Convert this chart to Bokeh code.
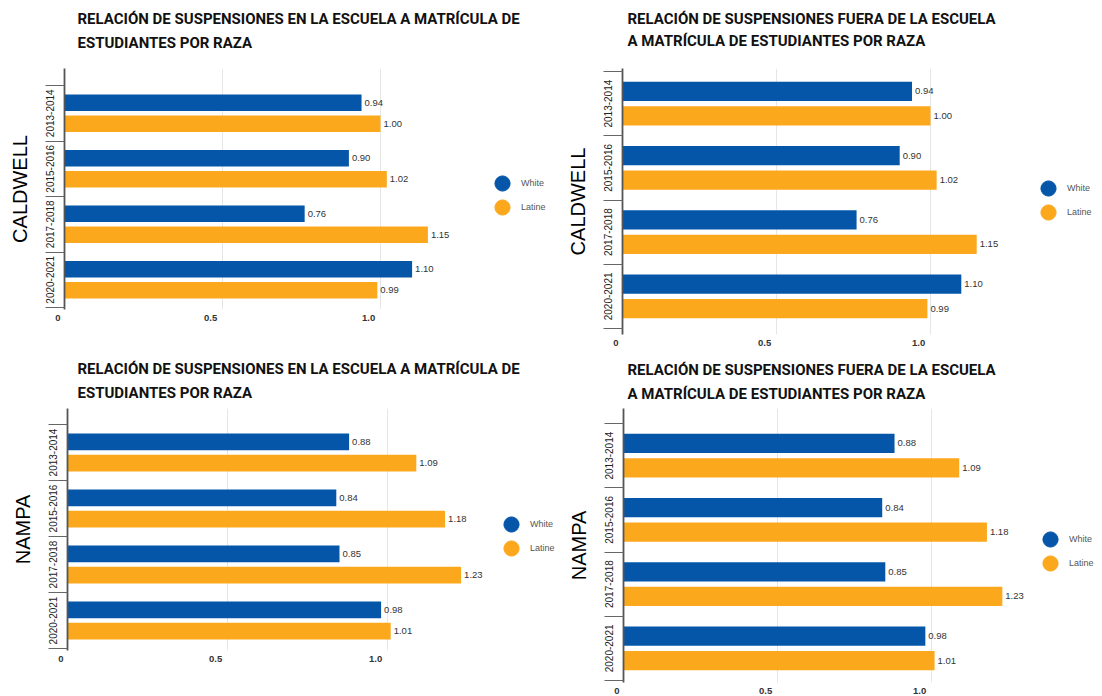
from bokeh.plotting import figure
from bokeh.models import ColumnDataSource, FixedTicker, Range1d, Legend, LegendItem, Title
from bokeh.transform import dodge
from bokeh.layouts import column, row
from bokeh.embed import file_html
from bokeh.resources import INLINE
from bokeh.core.properties import value

# ---------------- data ----------------
years = ["2013-2014", "2015-2016", "2017-2018", "2020-2021"]
series = ["White", "Latine"]
x_ticks = [0, 0.5, 1]
x_tick_labels = ["0", "0.5", "1.0"]

caldwell_in_white = [0.94, 0.90, 0.76, 1.10]
caldwell_in_latine = [1.00, 1.02, 1.15, 0.99]
caldwell_out_white = [0.94, 0.90, 0.76, 1.10]
caldwell_out_latine = [1.00, 1.02, 1.15, 0.99]
nampa_in_white = [0.88, 0.84, 0.85, 0.98]
nampa_in_latine = [1.09, 1.18, 1.23, 1.01]
nampa_out_white = [0.88, 0.84, 0.85, 0.98]
nampa_out_latine = [1.09, 1.18, 1.23, 1.01]

title_in = ["RELACIÓN DE SUSPENSIONES EN LA ESCUELA A MATRÍCULA DE", "ESTUDIANTES POR RAZA"]
title_out = ["RELACIÓN DE SUSPENSIONES FUERA DE LA ESCUELA", "A MATRÍCULA DE ESTUDIANTES POR RAZA"]

# ---------------- style ----------------
BLUE = "#0556A8"
ORANGE = "#FBA81D"
COLORS = [BLUE, ORANGE]
TITLE_FONT = "Roboto"
BODY_FONT = "Liberation Sans"
OFF = 0.19
BAR_H = 0.30
NBSP = "\u00a0"
# trailing padding so that the centred tick labels sit left of their gridline
x_label_pad = [5, 9, 9]
LEG_GLYPH = 38      # legend glyph box -> marker of 0.4 * 38 px
LEG_STEP = 24       # vertical distance between the two legend entries
BORDER_R = 2


def style_title(t, offset, standoff):
    t.text_font = TITLE_FONT
    t.text_font_size = "15px"
    t.text_font_style = "bold"
    t.text_color = "#111111"
    t.align = "left"
    t.offset = offset
    t.standoff = standoff


def make_panel(title_lines, city, white, latine, g):
    n = len(years)
    src = ColumnDataSource(dict(
        idx=list(range(n)), white=white, latine=latine,
        white_lbl=[f"{v:.2f}" for v in white],
        latine_lbl=[f"{v:.2f}" for v in latine],
    ))
    pitch = g["pitch"]
    ytop = -0.5 - g["pad_top"] / pitch
    ybot = ytop + g["fh"] / pitch
    p = figure(frame_width=g["fw"], frame_height=g["fh"],
               min_border_left=g["bl"], min_border_right=BORDER_R,
               min_border_top=g["bt"], min_border_bottom=g["bb"],
               x_range=Range1d(0, g["fw"] / g["scale"]),
               y_range=Range1d(ybot, ytop),
               output_backend="svg", toolbar_location=None)
    p.outline_line_color = None

    p.hbar(y=dodge("idx", -OFF), left=0, right="white", height=BAR_H,
           source=src, fill_color=BLUE, line_color=None)
    p.hbar(y=dodge("idx", OFF), left=0, right="latine", height=BAR_H,
           source=src, fill_color=ORANGE, line_color=None)
    for col, off in (("white", -OFF), ("latine", OFF)):
        p.text(x=col, y=dodge("idx", off), text=col + "_lbl", source=src,
               x_offset=3, text_baseline="middle", text_align="left",
               text_font_size="9.5px", text_color="#333333",
               text_font=value(BODY_FONT))

    # two-line title: the figure title holds the first line (outermost),
    # an extra Title holds the second line, next to the frame.
    # standoffs place line 2 and the line spacing
    f_top = g["bt"]
    s_in = round(2 * (f_top - 9.5 - g["line2"]))
    s_out = round(2 * (g["line_gap"] - 21)) - s_in
    p.title.text = title_lines[0]
    style_title(p.title, g["toff"], s_out)
    t2 = Title(text=title_lines[1])
    style_title(t2, g["toff"], s_in)
    p.add_layout(t2, "above")

    # y axis (years)
    ya = p.yaxis[0]
    ya.ticker = FixedTicker(ticks=list(range(n)),
                            minor_ticks=[i - 0.5 for i in range(n + 1)])
    ya.major_label_overrides = {i: y for i, y in enumerate(years)}
    ya.major_tick_out = 0
    ya.major_tick_in = 0
    ya.minor_tick_in = 0
    ya.minor_tick_out = 19
    ya.minor_tick_line_color = "#666666"
    ya.axis_line_color = "#555555"
    ya.axis_line_width = 1.8
    ya.major_label_orientation = "vertical"
    ya.major_label_standoff = -8
    ya.major_label_text_font = BODY_FONT
    ya.major_label_text_font_size = "10px"
    ya.major_label_text_color = "#222222"
    ya.axis_label = city
    ya.axis_label_text_font = BODY_FONT
    ya.axis_label_text_font_size = "20px"
    ya.axis_label_text_font_style = "normal"
    ya.axis_label_text_color = "#000000"
    ya.axis_label_standoff = 12

    # x axis
    xa = p.xaxis[0]
    xa.ticker = FixedTicker(ticks=x_ticks)
    xa.major_label_overrides = {t: l + NBSP * k for t, l, k in zip(x_ticks, x_tick_labels, x_label_pad)}
    xa.axis_line_color = None
    xa.major_tick_out = 0
    xa.major_tick_in = 0
    xa.major_tick_line_color = None
    xa.minor_tick_line_color = None
    xa.major_label_standoff = 2
    xa.major_label_text_font = BODY_FONT
    xa.major_label_text_font_size = "9.5px"
    xa.major_label_text_font_style = "bold"
    xa.major_label_text_color = "#333333"

    p.xgrid.grid_line_color = "#e6e6e6"
    p.ygrid.grid_line_color = None

    # legend: one single-entry legend per series, hidden markers give the dots
    frame_bottom = g["bt"] + g["fh"]
    for i, (name, col, colr) in enumerate(zip(series, ("white", "latine"), COLORS)):
        r = p.scatter(x=col, y="idx", source=src, marker="circle",
                      color=colr, visible=False)
        cy = g["leg_y"] + i * LEG_STEP
        lg = Legend(items=[LegendItem(label=name, renderers=[r])],
                    location=(g["leg_x"] - LEG_GLYPH // 2 - g["bl"],
                              frame_bottom - (cy + LEG_GLYPH // 2)),
                    glyph_width=LEG_GLYPH, glyph_height=LEG_GLYPH,
                    padding=0, margin=0, label_standoff=-2,
                    label_text_font=BODY_FONT, label_text_font_size="9px",
                    label_text_color="#555555", inactive_fill_alpha=0,
                    border_line_color=None, background_fill_alpha=0)
        p.add_layout(lg)
    return p


g_tl = dict(fw=494, fh=241, bl=64, bt=68, bb=41, scale=316, pitch=55.5, pad_top=17,
            toff=13, line2=42, line_gap=25, leg_x=502, leg_y=183)
g_tr = dict(fw=478, fh=266, bl=62, bt=65, bb=19, scale=308, pitch=64.25, pad_top=3,
            toff=5, line2=37, line_gap=23, leg_x=1048 - 560, leg_y=185)
g_bl = dict(fw=491, fh=242, bl=67, bt=58, bb=46, scale=320, pitch=56, pad_top=16,
            toff=10, line2=392 - 350, line_gap=25, leg_x=511, leg_y=524 - 350)
g_br = dict(fw=477, fh=274, bl=63, bt=57, bb=15, scale=308, pitch=64.25, pad_top=15,
            toff=4, line2=392 - 350, line_gap=25, leg_x=1050 - 560, leg_y=538 - 350)

tl = make_panel(title_in, "CALDWELL", caldwell_in_white, caldwell_in_latine, g_tl)
tr = make_panel(title_out, "CALDWELL", caldwell_out_white, caldwell_out_latine, g_tr)
bl = make_panel(title_in, "NAMPA", nampa_in_white, nampa_in_latine, g_bl)
br = make_panel(title_out, "NAMPA", nampa_out_white, nampa_out_latine, g_br)

layout = column(row(tl, tr), row(bl, br))
open("out.html", "w").write(file_html(layout, INLINE))
